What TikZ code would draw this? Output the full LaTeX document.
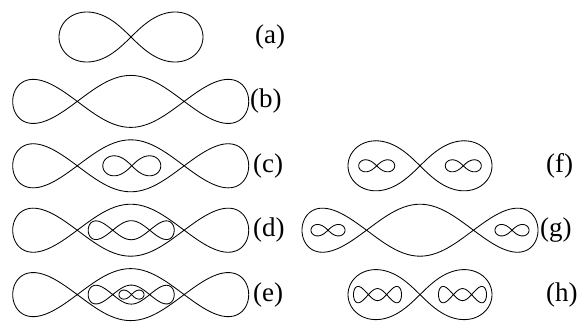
\documentclass[tikz,border=0pt]{standalone}
\usepackage{fontspec}
\setmainfont{Liberation Serif}
\begin{document}
\begin{tikzpicture}[
    x=1pt, y=-1pt,
    curve/.style={draw=black, line width=0.85pt},
    lbl/.style={anchor=west, inner sep=0pt, font=\fontsize{27}{30}\selectfont},
    eight/.pic={\draw[curve] plot[domain=0:358, samples=180, smooth cycle, variable=\t]
        ({cos(\t)/(1+sin(\t)*sin(\t))}, {2.8284*sin(\t)*cos(\t)/(1+sin(\t)*sin(\t))});},
    wave/.pic={\draw[curve] plot[domain=0:358, samples=180, smooth cycle, variable=\t]
        ({cos(\t)}, {sin(\t)*(1-cos(\t)*cos(\t)/(#1*#1))/(1+0.8*cos(\t)*cos(\t))});}
]
\useasboundingbox (0,0) rectangle (583,327);

% Row a
\pic[xscale=72, yscale=25] at (131,37) {eight};
\node[lbl] (la) at (255,37) {(a)};

% Row b
\pic[xscale=118, yscale=26] at (130.7,101.4) {wave=0.453};
\node[lbl] (lb) at (250,101.4) {(b)};

% Row c
\pic[xscale=118, yscale=26] at (130.7,165.8) {wave=0.453};
\pic[xscale=29, yscale=10] at (131.8,165.8) {eight};
\node[lbl] (lc) at (253,165.8) {(c)};

% Row d
\pic[xscale=118, yscale=26] at (130.7,230.2) {wave=0.453};
\pic[xscale=43, yscale=9.5] at (131.2,230.2) {wave=0.43};
\node[lbl] (ld) at (253,230.2) {(d)};

% Row e
\pic[xscale=118, yscale=26] at (130.7,294.6) {wave=0.453};
\pic[xscale=43, yscale=9.5] at (131.2,294.6) {wave=0.43};
\pic[xscale=12.5, yscale=4.5] at (131.5,294.6) {eight};
\node[lbl] (le) at (253,294.6) {(e)};

% Row f
\pic[xscale=72, yscale=25] at (420,165.8) {eight};
\pic[xscale=18, yscale=6] at (376.7,165.8) {eight};
\pic[xscale=18, yscale=6] at (463.3,165.8) {eight};
\node[lbl] (lf) at (546,165.8) {(f)};

% Row g
\pic[xscale=118, yscale=26] at (420,230.2) {wave=0.453};
\pic[xscale=17, yscale=5.7] at (328,230.2) {eight};
\pic[xscale=17, yscale=5.7] at (512,230.2) {eight};
\node[lbl] (lg) at (540,230.2) {(g)};

% Row h
\pic[xscale=72, yscale=25] at (420,294.6) {eight};
\pic[xscale=24, yscale=6] at (377.5,294.6) {wave=0.38};
\pic[xscale=24, yscale=6] at (462.5,294.6) {wave=0.38};
\node[lbl] (lh) at (546,294.6) {(h)};

\end{tikzpicture}
\end{document}
